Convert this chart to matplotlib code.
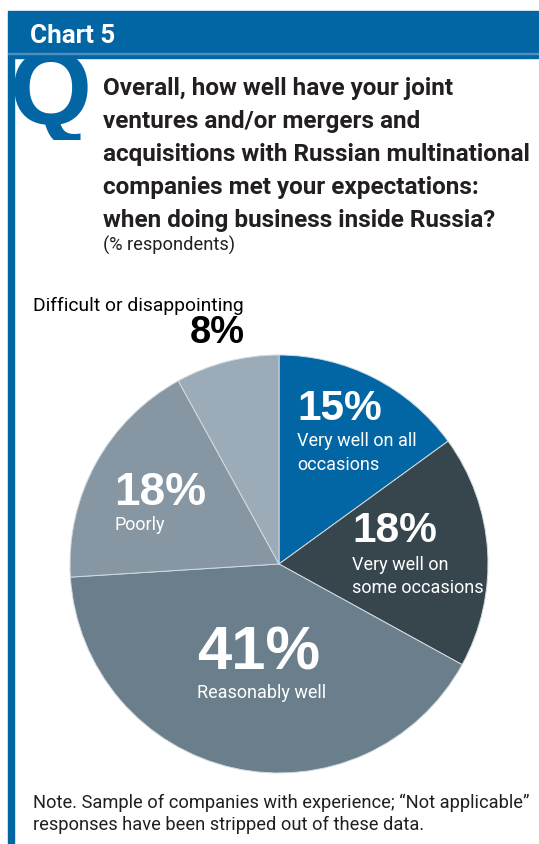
import matplotlib
matplotlib.use("Agg")
import matplotlib.pyplot as plt
from matplotlib import font_manager
from matplotlib.patches import Rectangle

# ---- data ----
categories = ["Very well on all occasions", "Very well on some occasions",
              "Reasonably well", "Poorly", "Difficult or disappointing"]
values = [15, 18, 41, 18, 8]
slice_colors = ["#0366A4", "#37454D", "#6A7E8B", "#8696A3", "#9BACB8"]
title_lines = ["Overall, how well have your joint",
               "ventures and/or mergers and",
               "acquisitions with Russian multinational",
               "companies met your expectations:",
               "when doing business inside Russia?"]
subtitle = "(% respondents)"
chart_label = "Chart 5"
note_lines = ["Note. Sample of companies with experience; \u201cNot applicable\u201d",
              "responses have been stripped out of these data."]

W, H = 539, 844
BLUE = "#0366A4"
DARK = "#231F20"

names = {f.name for f in font_manager.fontManager.ttflist}
NARROW = "Liberation Sans Narrow" if "Liberation Sans Narrow" in names else "Roboto"
BOLDNUM = "Liberation Sans"

fig = plt.figure(figsize=(W / 100, H / 100), dpi=100)
fig.patch.set_facecolor("white")
renderer = fig.canvas.get_renderer()


def fx(x):
    return x / W


def fy(y):
    return 1 - y / H


def put(x, y, s, width=None, size=12, **kw):
    t = fig.text(fx(x), fy(y), s, fontsize=size, va="baseline", ha="left", **kw)
    if width is not None:
        w = t.get_window_extent(renderer).width
        t.set_fontsize(size * width / w)
    return t


# header band and left rule
fig.patches.append(Rectangle((fx(8), fy(58)), fx(539) - fx(8), fy(11) - fy(58),
                             transform=fig.transFigure, color=BLUE, zorder=1))
fig.patches.append(Rectangle((fx(8), fy(54)), fx(539) - fx(8), 0.6 / H,
                             transform=fig.transFigure, color="#4E8FBE", zorder=2))
fig.patches.append(Rectangle((fx(8), 0), fx(14) - fx(8), fy(58),
                             transform=fig.transFigure, color=BLUE, zorder=1))

put(30, 43, chart_label, width=85, size=20, color="white", fontweight="bold", family=NARROW)

# big "Q" mark, clipped to the panel
q = put(10, 124, "Q", size=80, color=BLUE, fontweight="bold", family=BOLDNUM)
w = q.get_window_extent(renderer).width
q.set_fontsize(80 * 82 / w)
clip = Rectangle((fx(14), fy(140)), fx(100) - fx(14), fy(58) - fy(140),
                 transform=fig.transFigure, facecolor="none", edgecolor="none")
fig.patches.append(clip)
q.set_clip_path(clip)

# question text
ref = put(103, 161, title_lines[2], width=427, size=17, color=DARK,
          fontweight="bold", family=NARROW)
tsize = ref.get_fontsize()
for i, line in enumerate(title_lines):
    if i == 2:
        continue
    put(103, 95 + 33 * i, line, size=tsize, color=DARK, fontweight="bold", family=NARROW)
put(103, 251, subtitle, width=132, size=12, color=DARK, family=NARROW)

# pie
cx, cy, r = 279, 564, 209
ax = fig.add_axes([fx(cx - r), fy(cy + r), 2 * r / W, 2 * r / H])
ax.pie(values, colors=slice_colors, startangle=90, counterclock=False,
       wedgeprops=dict(edgecolor="#D3DBE1", linewidth=0.7))
ax.set_xlim(-1.0, 1.0)
ax.set_ylim(-1.0, 1.0)
ax.set_aspect("equal")
ax.axis("off")

pct = [f"{v}%" for v in values]
# Very well on all occasions
put(297, 420, pct[0], width=85, size=26, color="white", fontweight="bold", family=BOLDNUM)
lab = put(352, 593, "some occasions", width=132, size=14, color="white", family=NARROW)
ls = lab.get_fontsize()
put(297, 446, "Very well on all", size=ls, color="white", family=NARROW)
put(297, 470, "occasions", size=ls, color="white", family=NARROW)
# Very well on some occasions
put(352, 542, pct[1], width=85, size=26, color="white", fontweight="bold", family=BOLDNUM)
put(352, 570, "Very well on", size=ls, color="white", family=NARROW)
# Reasonably well
put(197, 670, pct[2], width=123, size=36, color="white", fontweight="bold", family=BOLDNUM)
put(197, 698, "Reasonably well", size=ls, color="white", family=NARROW)
# Poorly
put(114, 505, pct[3], width=92, size=26, color="white", fontweight="bold", family=BOLDNUM)
put(114, 530, "Poorly", size=ls, color="white", family=NARROW)
# Difficult or disappointing
put(33, 311, "Difficult or disappointing", width=212, size=14, color="black", family=NARROW)
put(190, 343, pct[4], width=55, size=26, color="black", fontweight="bold", family=BOLDNUM)

# note
nt = put(33, 808, note_lines[0], width=494, size=13, color=DARK, family=NARROW)
put(33, 830, note_lines[1], size=nt.get_fontsize(), color=DARK, family=NARROW)

fig.savefig("out.png", dpi=100, facecolor="white")
